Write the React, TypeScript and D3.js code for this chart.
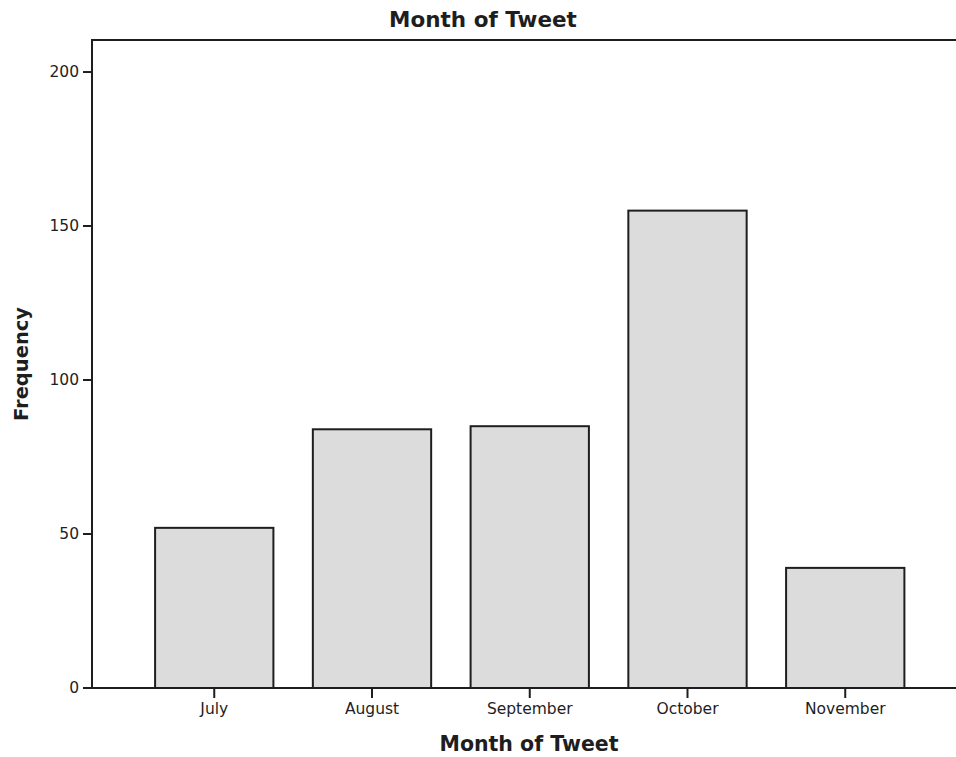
import * as d3 from 'd3';

const months = ['July', 'August', 'September', 'October', 'November'];
const counts = [52, 84, 85, 155, 39];
const yTicks = [0, 50, 100, 150, 200];

const W = 956;
const H = 757;
const left = 92;
const top = 40;
const bottom = 688;
const font = '"DejaVu Sans", sans-serif';
const ink = '#1e1e1e';

export default function App() {
  const x = d3
    .scaleBand<string>()
    .domain(months)
    .range([left, 967.5])
    .paddingInner(0.25)
    .paddingOuter(0.4);

  const y = d3.scaleLinear().domain([0, 210.4]).range([bottom, top]);

  return (
    <svg
      width={W}
      height={H}
      style={{ position: 'absolute', left: 0, top: 0, background: '#fff' }}
      fontFamily={font}
    >
      <text x={483} y={27} textAnchor="middle" fontSize={21.5} fontWeight="bold" fill={ink}>
        Month of Tweet
      </text>

      {/* Bars */}
      {months.map((m, i) => (
        <rect
          key={m}
          x={x(m)!}
          y={y(counts[i])}
          width={x.bandwidth()}
          height={y(0) - y(counts[i])}
          fill="#dcdcdc"
          stroke={ink}
          strokeWidth={2}
        />
      ))}

      {/* Frame */}
      <line x1={left} x2={W} y1={top} y2={top} stroke={ink} strokeWidth={2} />
      <line x1={left} x2={left} y1={top - 1} y2={bottom} stroke={ink} strokeWidth={2} />
      <line x1={left - 1} x2={W} y1={bottom} y2={bottom} stroke={ink} strokeWidth={2} />

      {/* Y axis */}
      {yTicks.map(t => (
        <g key={t} transform={`translate(0,${y(t)})`}>
          <line x1={left - 9} x2={left} stroke={ink} strokeWidth={2} />
          <text x={left - 13} dy="0.35em" textAnchor="end" fontSize={15.5} fill={ink}>
            {t}
          </text>
        </g>
      ))}

      {/* X axis */}
      {months.map(m => {
        const cx = x(m)! + x.bandwidth() / 2;
        return (
          <g key={m} transform={`translate(${cx},${bottom})`}>
            <line y1={0} y2={10} stroke={ink} strokeWidth={2} />
            <text y={26} textAnchor="middle" fontSize={15.5} fill={ink}>
              {m}
            </text>
          </g>
        );
      })}

      <text x={529} y={751} textAnchor="middle" fontSize={20.5} fontWeight="bold" fill={ink}>
        Month of Tweet
      </text>
      <text
        transform={`translate(28,${(top + bottom) / 2}) rotate(-90)`}
        textAnchor="middle"
        fontSize={19.5}
        fontWeight="bold"
        fill={ink}
      >
        Frequency
      </text>
    </svg>
  );
}
